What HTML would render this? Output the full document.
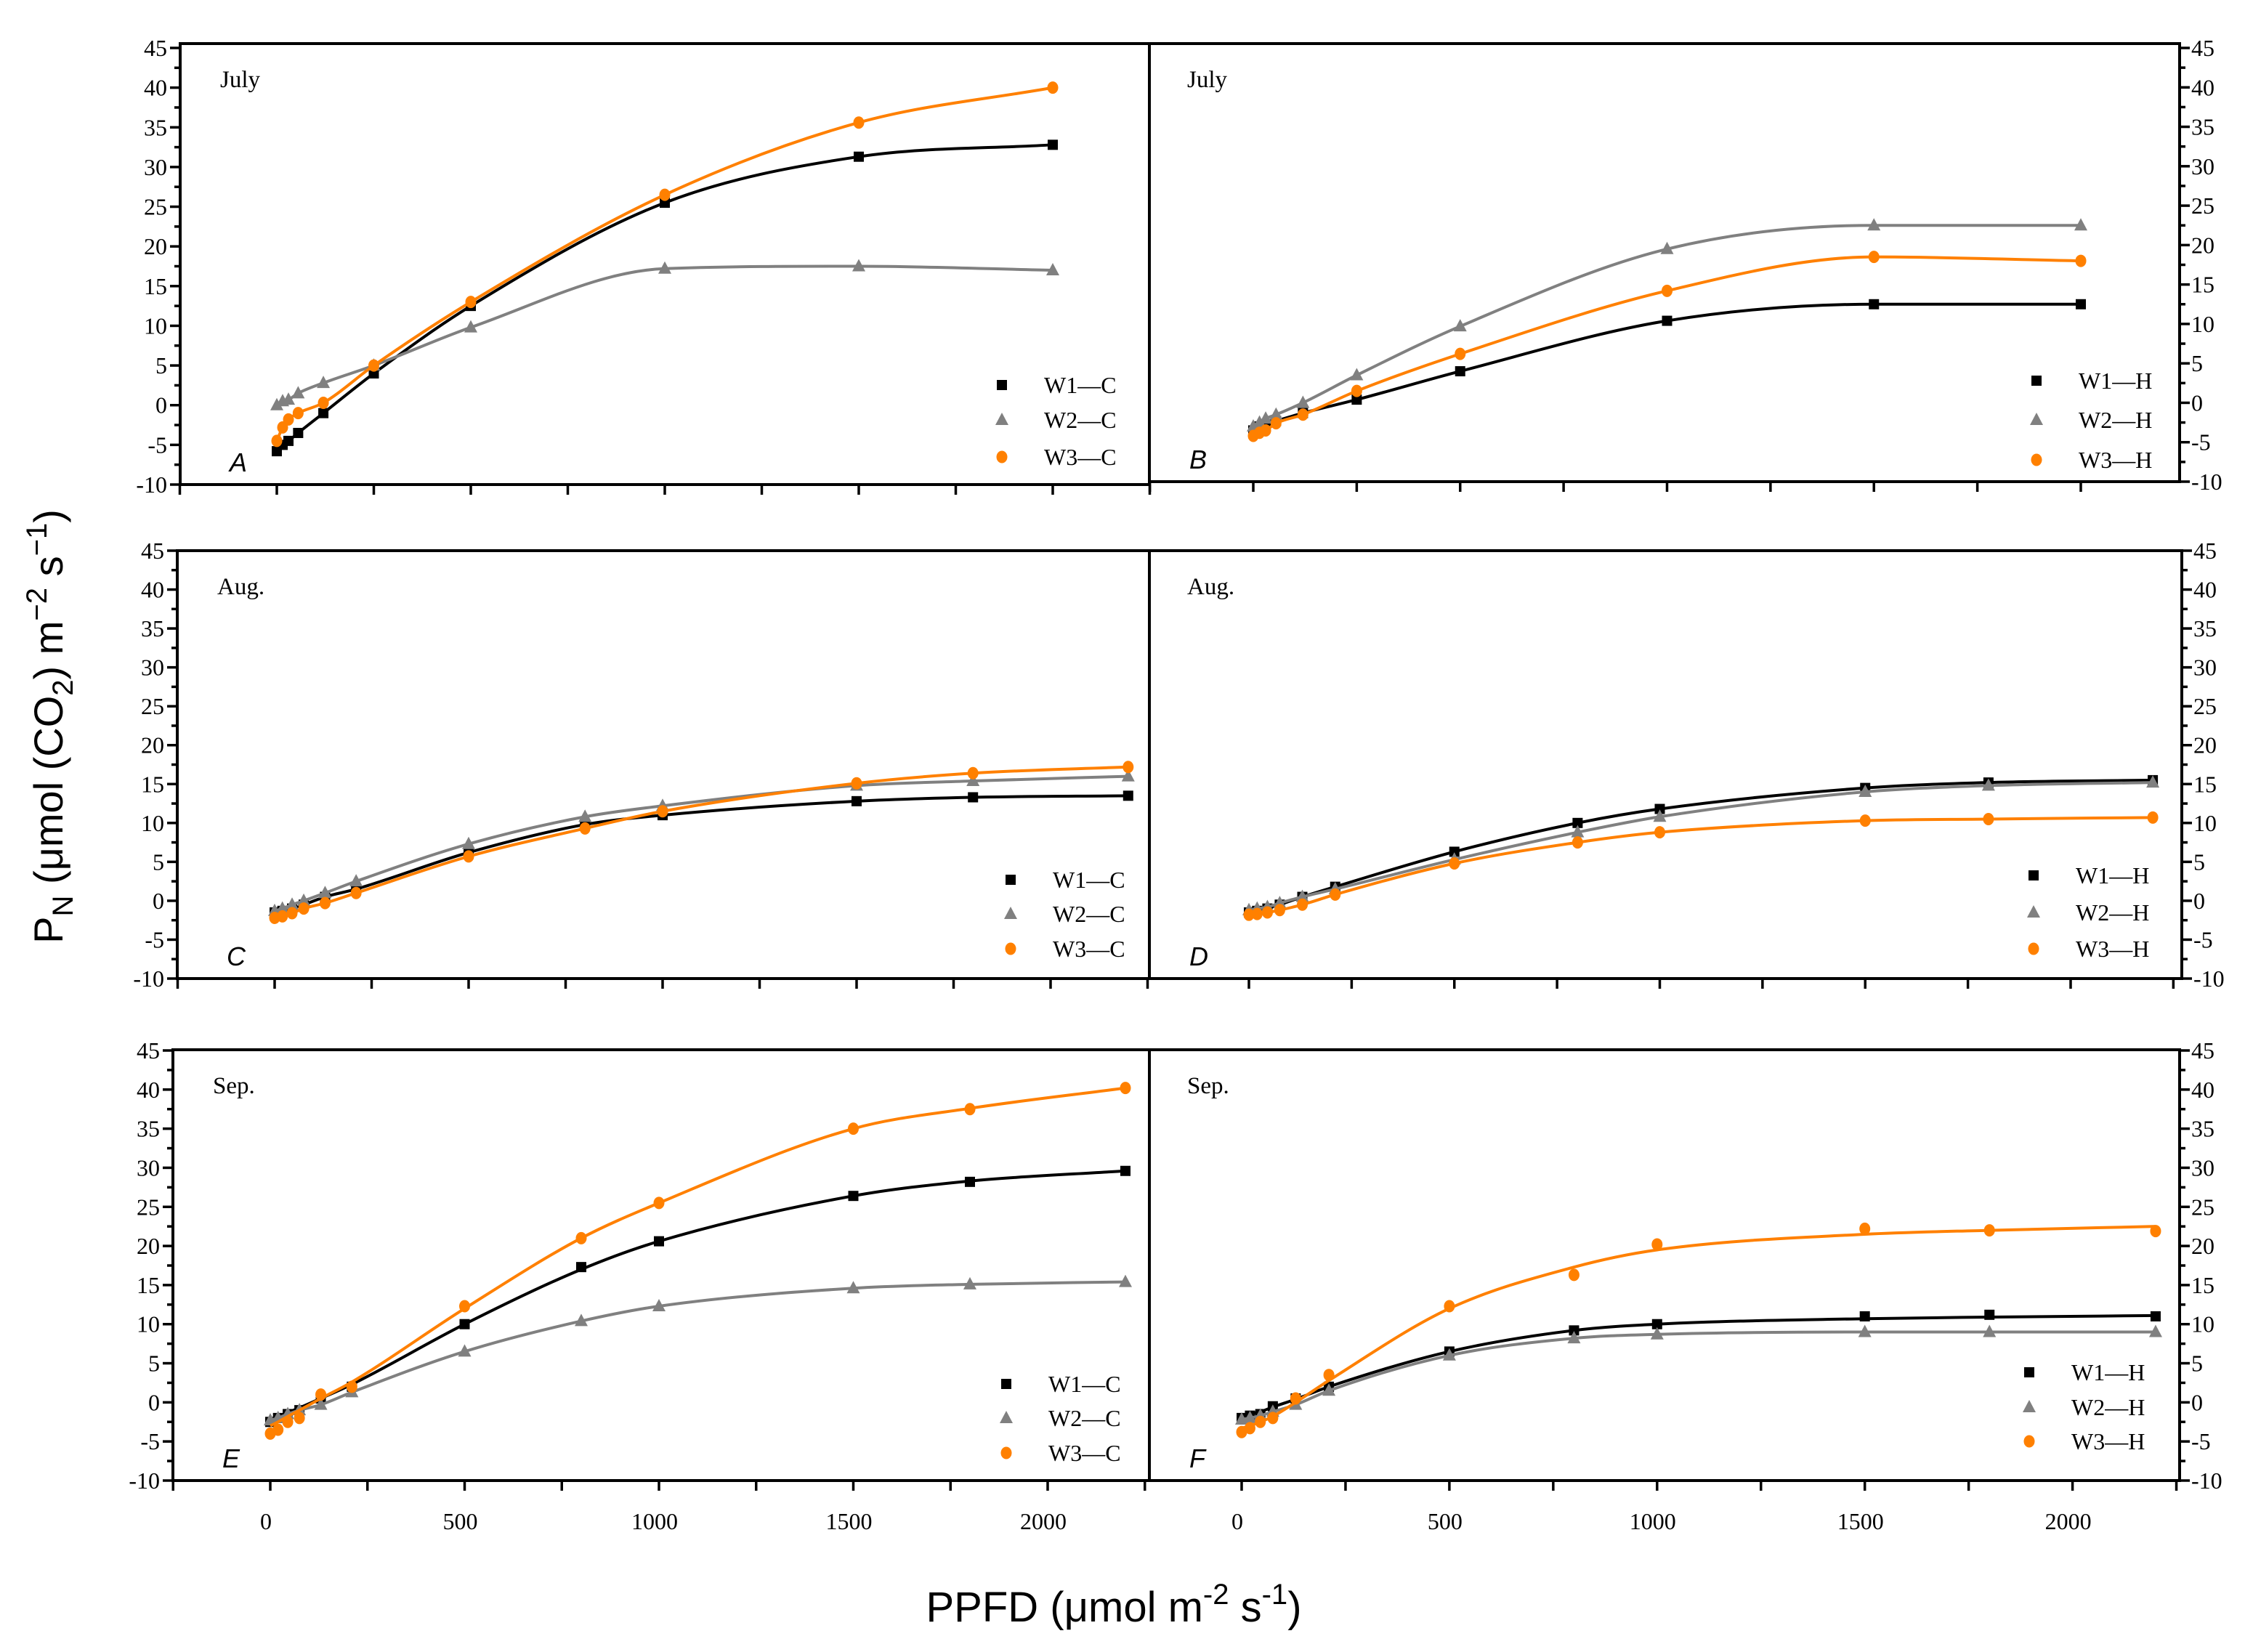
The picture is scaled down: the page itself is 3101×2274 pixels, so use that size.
<!DOCTYPE html>
<html><head><meta charset="utf-8"><style>
html,body{margin:0;padding:0;background:#fff;}
svg{display:block;}
text{font-family:"Liberation Serif",serif;}
</style></head><body>
<svg id="fig" width="3101" height="2274" viewBox="0 0 3101 2274" xmlns="http://www.w3.org/2000/svg">
<text transform="translate(86,1000) rotate(-90)" text-anchor="middle" style="font-family:'Liberation Sans',sans-serif;font-size:56px">P<tspan font-size="40" dy="14">N</tspan><tspan dy="-14"> (μmol (CO</tspan><tspan font-size="40" dy="14">2</tspan><tspan dy="-14">) m</tspan><tspan font-size="40" dy="-22">−2</tspan><tspan dy="22"> s</tspan><tspan font-size="40" dy="-22">−1</tspan><tspan dy="22">)</tspan></text>
<text x="1533" y="2232" text-anchor="middle" style="font-family:'Liberation Sans',sans-serif;font-size:58px">PPFD (μmol m<tspan font-size="40" dy="-24">-2</tspan><tspan dy="24"> s</tspan><tspan font-size="40" dy="-24">-1</tspan><tspan dy="24">)</tspan></text>
</svg>
<script>
// ---- data ----
const xJuly = [0, 15, 30, 55, 120, 250, 500, 1000, 1500, 2000];
const xAugSep = [0, 20, 45, 75, 130, 210, 500, 800, 1000, 1500, 1800, 2200];
const aW1 = [-5.8, -5.0, -4.5, -3.5, -1.0, 4.0, 12.5, 25.5, 31.3, 32.8];
const aW2 = [0.0, 0.5, 0.7, 1.5, 2.8, 5.0, 9.8, 17.2, 17.5, 17.0];
const aW3 = [-4.5, -2.8, -1.8, -1.0, 0.3, 5.0, 13.0, 26.5, 35.6, 40.0];
const bW1 = [-3.5, -3.0, -2.7, -2.3, -1.3, 0.4, 4.0, 10.4, 12.5, 12.5];
const bW2 = [-3.0, -2.5, -2.0, -1.5, 0.0, 3.5, 9.7, 19.5, 22.5, 22.5];
const bW3 = [-4.2, -3.8, -3.5, -2.6, -1.5, 1.5, 6.2, 14.2, 18.5, 18.0];
const cW1 = [-1.5, -1.3, -1.0, -0.5, 0.5, 1.5, 6.2, 9.8, 11.0, 12.8, 13.3, 13.5];
const cW2 = [-1.3, -1.0, -0.5, 0.0, 1.0, 2.5, 7.3, 10.8, 12.2, 14.8, 15.4, 16.0];
const cW3 = [-2.2, -2.0, -1.6, -1.0, -0.3, 1.0, 5.7, 9.3, 11.5, 15.1, 16.4, 17.2];
const dW1 = [-1.5, -1.3, -1.0, -0.5, 0.5, 1.8, 6.3, 10.0, 11.8, 14.5, 15.2, 15.5];
const dW2 = [-1.2, -1.0, -0.8, -0.3, 0.5, 1.5, 5.3, 8.8, 10.8, 14.0, 14.8, 15.2];
const dW3 = [-1.8, -1.7, -1.5, -1.2, -0.5, 0.8, 4.8, 7.5, 8.8, 10.3, 10.5, 10.7];
const eW1 = [-2.5, -2.0, -1.5, -1.0, 0.5, 2.0, 10.0, 17.3, 20.6, 26.4, 28.2, 29.6];
const eW2 = [-2.3, -2.0, -1.5, -1.0, -0.3, 1.3, 6.5, 10.4, 12.3, 14.6, 15.1, 15.4];
const eW3 = [-4.0, -3.5, -2.5, -2.0, 1.0, 2.0, 12.3, 21.0, 25.5, 35.0, 37.5, 40.2];
const fW1 = [-2.0, -1.7, -1.5, -0.5, 0.5, 2.0, 6.5, 9.2, 10.0, 11.0, 11.2, 11.0];
const fW2 = [-2.2, -2.0, -1.7, -1.2, -0.3, 1.5, 6.0, 8.2, 8.7, 9.0, 9.0, 9.0];
const fW3 = [-3.8, -3.3, -2.5, -2.0, 0.5, 3.5, 12.3, 16.3, 20.2, 22.2, 22.0, 21.9];
// fitted-curve values (where the fit departs from the points)
const eW1Fit = [-2.2, -1.8, -1.3, -0.7, 0.5, 2.3, 10.0, 17.0, 20.6, 26.4, 28.3, 29.6];
const eW3Fit = [-3.0, -2.5, -1.8, -1.0, 0.5, 2.6, 12.0, 21.0, 25.5, 35.0, 37.6, 40.2];
const fW1Fit = [-1.8, -1.5, -1.2, -0.6, 0.4, 2.0, 6.5, 9.2, 10.0, 10.7, 10.9, 11.1];
const fW3Fit = [-3.3, -3.0, -2.5, -1.8, 0.0, 2.8, 12.0, 17.3, 19.5, 21.5, 22.0, 22.5];
const yTickLabels = ["-10", "-5", "0", "5", "10", "15", "20", "25", "30", "35", "40", "45"];
const xTickLabels = ["0", "500", "1000", "1500", "2000"];
const months = ["July", "July", "Aug.", "Aug.", "Sep.", "Sep."];
const letters = ["A", "B", "C", "D", "E", "F"];

const NS = "http://www.w3.org/2000/svg";
const svg = document.getElementById("fig");
function mk(tag, attrs, parent) {
  const e = document.createElementNS(NS, tag);
  for (const k in attrs) e.setAttribute(k, attrs[k]);
  (parent || svg).appendChild(e);
  return e;
}
const COL = ["#000000", "#808080", "#ff8000"];
const panels = [
  {id:"a", xs:xJuly, s:[aW1,aW2,aW3], fit:[null,null,null], x0:381, kx:0.534, fl:248, fr:1582, ft:60, y45:66, y10:667, right:false, suf:"C", lx:1379, ly:[530,578,629]},
  {id:"b", xs:xJuly, s:[bW1,bW2,bW3], fit:[null,null,null], x0:1725, kx:0.5695, fl:1582, fr:3000, ft:60, y45:66, y10:663, right:true, suf:"H", lx:2803, ly:[524,578,633]},
  {id:"c", xs:xAugSep, s:[cW1,cW2,cW3], fit:[null,null,null], x0:378, kx:0.534, fl:244, fr:1582, ft:758, y45:758, y10:1347, right:false, suf:"C", lx:1391, ly:[1211,1258,1306]},
  {id:"d", xs:xAugSep, s:[dW1,dW2,dW3], fit:[null,null,null], x0:1719, kx:0.5655, fl:1582, fr:3003, ft:758, y45:758, y10:1347, right:true, suf:"H", lx:2799, ly:[1205,1256,1306]},
  {id:"e", xs:xAugSep, s:[eW1,eW2,eW3], fit:[eW1Fit,null,eW3Fit], x0:372, kx:0.535, fl:238, fr:1582, ft:1445, y45:1446, y10:2038, right:false, suf:"C", lx:1385, ly:[1905,1952,2000], xl:true},
  {id:"f", xs:xAugSep, s:[fW1,fW2,fW3], fit:[fW1Fit,null,fW3Fit], x0:1709, kx:0.5718, fl:1582, fr:3000, ft:1445, y45:1446, y10:2038, right:true, suf:"H", lx:2793, ly:[1889,1937,1984], xl:true}
];
function marker(g, k, cx, cy) {
  let m;
  if (k === 0) m = mk("rect", {x:cx-7, y:cy-7, width:14, height:14, fill:COL[0]}, g);
  else if (k === 1) m = mk("polygon", {points:`${cx},${cy-10} ${cx-9},${cy+7} ${cx+9},${cy+7}`, fill:COL[1]}, g);
  else m = mk("ellipse", {cx:cx, cy:cy, rx:7.5, ry:8.5, fill:COL[2]}, g);
  return m;
}
function smoothPath(pts) {
  const n = pts.length, d = [], m = [];
  for (let i = 0; i < n-1; i++) d.push((pts[i+1][1]-pts[i][1])/(pts[i+1][0]-pts[i][0]));
  m[0] = d[0]; m[n-1] = d[n-2];
  for (let i = 1; i < n-1; i++) m[i] = (d[i-1]*d[i] <= 0) ? 0 : (d[i-1]+d[i])/2;
  for (let i = 0; i < n-1; i++) {
    if (d[i] === 0) { m[i] = 0; m[i+1] = 0; continue; }
    const a = m[i]/d[i], b = m[i+1]/d[i], h = a*a+b*b;
    if (h > 9) { const t = 3/Math.sqrt(h); m[i] = t*a*d[i]; m[i+1] = t*b*d[i]; }
  }
  let p = `M${pts[0][0]},${pts[0][1]}`;
  for (let i = 0; i < n-1; i++) {
    const h = (pts[i+1][0]-pts[i][0])/3;
    p += ` C${pts[i][0]+h},${pts[i][1]+m[i]*h} ${pts[i+1][0]-h},${pts[i+1][1]-m[i+1]*h} ${pts[i+1][0]},${pts[i+1][1]}`;
  }
  return p;
}
panels.forEach((P, pi) => {
  const g = mk("g", {});
  
  
  const X = v => P.x0 + v*P.kx;
  const Y = v => P.y10 - (v+10)*(P.y10-P.y45)/55;
  const fr = mk("rect", {x:P.fl, y:P.ft, width:P.fr-P.fl, height:P.y10-P.ft, fill:"none", stroke:"#000", "stroke-width":4}, g);
  
  
  const ax = P.right ? P.fr : P.fl, dir = P.right ? 1 : -1;
  const yg = mk("g", {}, g);
  
  
  for (let i = 0; i < 23; i++) {
    const v = -10 + i*2.5, y = Y(v), major = i % 2 === 0;
    mk("line", {x1:ax, x2:ax+dir*(major?14:8), y1:y, y2:y, stroke:"#000", "stroke-width":3.5}, yg);
    if (major) {
      const t = mk("text", {x: P.right ? ax+16 : ax-18, y:y+11, "font-size":32, "text-anchor": P.right ? "start" : "end"}, yg);
      t.textContent = yTickLabels[i/2];
    }
  }
  const xg = mk("g", {}, g);
  
  
  for (let v = -250; v <= 2250; v += 250) {
    const x = X(v);
    if (x < P.fl - 2 || x > P.fr + 2) continue;
    mk("line", {x1:x, x2:x, y1:P.y10, y2:P.y10+14, stroke:"#000", "stroke-width":3.5}, xg);
    if (P.xl && v >= 0 && v % 500 === 0 && v <= 2000) {
      const t = mk("text", {x:x-6, y:P.y10+67, "font-size":32, "text-anchor":"middle"}, xg);
      t.textContent = xTickLabels[v/500];
    }
  }
  const mt = mk("text", {x:P.fl + (P.right ? 52 : 55), y:P.ft + 60, "font-size":33}, g);
  mt.textContent = months[pi];
  
  
  const lt = mk("text", {x:P.fl + (P.right ? 55 : 68), y:P.y10 - 18, "font-size":36, "font-style":"italic", style:"font-family:'Liberation Sans',sans-serif"}, g);
  lt.textContent = letters[pi];
  
  
  P.s.forEach((vals, k) => {
    const sg = mk("g", {}, g);
    
    
    const fitVals = P.fit[k] || vals;
    const fpts = P.xs.map((x, i) => [X(x), Y(fitVals[i])]);
    const path = mk("path", {d:smoothPath(fpts), fill:"none", stroke:COL[k], "stroke-width":4}, sg);
    
    
    P.xs.forEach((x, i) => {
      const m = marker(sg, k, X(x), Y(vals[i]));
      
      
    });
  });
  const lg = mk("g", {}, g);
  
  
  for (let k = 0; k < 3; k++) {
    const m = marker(lg, k, P.lx, P.ly[k]);
    
    
    const t = mk("text", {x:P.lx + 58, y:P.ly[k] + 11, "font-size":32}, lg);
    t.textContent = "W" + (k+1) + "—" + P.suf;
    
    
  }
});
</script>
</body></html>
